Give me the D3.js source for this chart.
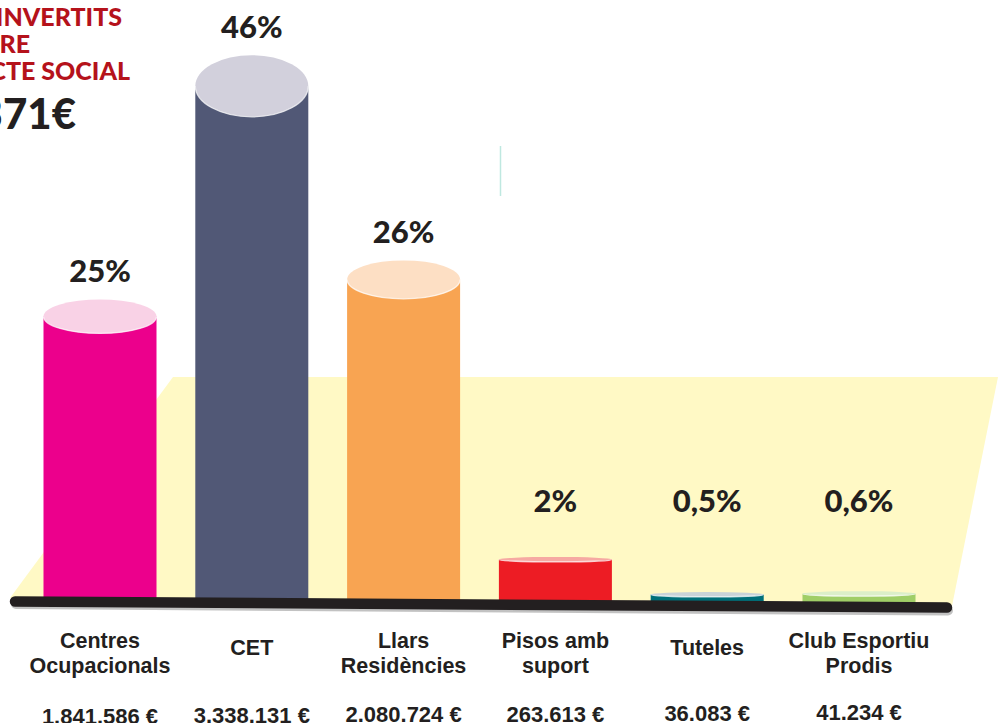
<!DOCTYPE html>
<html>
<head>
<meta charset="utf-8">
<script src="https://cdn.jsdelivr.net/npm/d3@7"></script>
<style>
  html, body { margin: 0; padding: 0; background: #ffffff; overflow: hidden; }
  svg { display: block; }
</style>
</head>
<body>
<svg id="chart" width="998" height="723"></svg>
<script>
// ---- data ----
const categories = [
  ["Centres", "Ocupacionals"],
  ["CET"],
  ["Llars", "Residències"],
  ["Pisos amb", "suport"],
  ["Tuteles"],
  ["Club Esportiu", "Prodis"]
];
const amounts = [1841586, 3338131, 2080724, 263613, 36083, 41234];
const percentLabels = ["25%", "46%", "26%", "2%", "0,5%", "0,6%"];
const amountLabels = ["1.841.586 €", "3.338.131 €", "2.080.724 €", "263.613 €", "36.083 €", "41.234 €"];
const bodyColors = ["#EC008C", "#515876", "#F8A452", "#ED1C24", "#00707A", "#A0CE67"];
const topColors  = ["#F9D2E6", "#D2D0DC", "#FDDFC4", "#F6A9A2", "#C9D3D8", "#DCEFC9"];
const titleLines = ["RECURSOS INVERTITS", "SOBRE", "L'IMPACTE SOCIAL"];
const totalLabel = "7.601.371€";

// ---- layout ----
const svg = d3.select("#chart");
const baseY = 600;
const keys = d3.range(categories.length);

const x = d3.scalePoint().domain(keys).range([100, 859]);
const y = d3.scaleLinear().domain([0, d3.max(amounts)]).range([baseY, 86]);
const barW = 113;
const ryOf = v => Math.max(2.5, (baseY - y(v)) * 0.06);

// floor
svg.append("polygon")
  .attr("points", [[173, 377], [998, 377], [952, 606], [10, 598]].map(p => p.join(",")).join(" "))
  .attr("fill", "#FFF9C5");

// thin decorative line
svg.append("line")
  .attr("x1", 500.5).attr("x2", 500.5).attr("y1", 146).attr("y2", 196)
  .attr("stroke", "#BFE8E0").attr("stroke-width", 1.5);

// cylinders
const cyl = svg.append("g").selectAll("g").data(keys).join("g");
cyl.append("rect")
  .attr("x", i => x(i) - barW / 2)
  .attr("y", i => y(amounts[i]))
  .attr("width", barW)
  .attr("height", i => baseY + 6 - y(amounts[i]))
  .attr("fill", i => bodyColors[i]);
cyl.append("ellipse")
  .attr("cx", i => x(i))
  .attr("cy", i => y(amounts[i]))
  .attr("rx", barW / 2)
  .attr("ry", i => ryOf(amounts[i]))
  .attr("fill", i => topColors[i]);
cyl.append("path")
  .attr("d", i => {
    const cx = x(i), cy = y(amounts[i]), rx = barW / 2, ry = ryOf(amounts[i]);
    return `M${cx - rx},${cy} A${rx},${ry} 0 0 0 ${cx + rx},${cy}`;
  })
  .attr("fill", "none")
  .attr("stroke", "#ffffff")
  .attr("stroke-opacity", 0.75)
  .attr("stroke-width", 1.3);

// base line with shadow
svg.append("line")
  .attr("x1", 16).attr("y1", 604).attr("x2", 948).attr("y2", 610.5)
  .attr("stroke", "#9a9a9a").attr("stroke-width", 10).attr("stroke-linecap", "round").attr("opacity", 0.6);
svg.append("line")
  .attr("x1", 15).attr("y1", 601.5).attr("x2", 947).attr("y2", 607.5)
  .attr("stroke", "#231F20").attr("stroke-width", 10.5).attr("stroke-linecap", "round");

// percentage labels
svg.append("g").selectAll("text").data(keys).join("text")
  .attr("x", i => x(i))
  .attr("y", i => Math.min(y(amounts[i]) - ryOf(amounts[i]) - 17, 512))
  .attr("text-anchor", "middle")
  .attr("font-family", "Lato, 'Open Sans', sans-serif")
  .attr("font-weight", 900)
  .attr("font-size", 31)
  .attr("fill", "#231F20")
  .text(i => percentLabels[i]);

// category labels
const catG = svg.append("g").selectAll("text").data(keys).join("text")
  .attr("text-anchor", "middle")
  .attr("font-family", "'Liberation Sans', Arial, sans-serif")
  .attr("font-weight", 700)
  .attr("font-size", 21.5)
  .attr("fill", "#231F20");
catG.each(function (i) {
  const lines = categories[i];
  const t = d3.select(this);
  const y0 = lines.length === 1 ? 655 : 648;
  lines.forEach((ln, k) => {
    t.append("tspan").attr("x", x(i)).attr("y", y0 + k * 25).text(ln);
  });
});

// amount labels (cropped at bottom as in the reference)
svg.append("g").selectAll("text").data(keys).join("text")
  .attr("x", i => x(i))
  .attr("y", i => 724 - i * 0.8)
  .attr("text-anchor", "middle")
  .attr("font-family", "'Liberation Sans', Arial, sans-serif")
  .attr("font-weight", 700)
  .attr("font-size", 22)
  .attr("fill", "#231F20")
  .text(i => amountLabels[i]);

// title (partially cropped at left)
const titleEnds = [122, 30, 130];
const titleBase = [26, 53, 80];
svg.append("g").selectAll("text").data(titleLines).join("text")
  .attr("x", (d, k) => titleEnds[k])
  .attr("y", (d, k) => titleBase[k])
  .attr("text-anchor", "end")
  .attr("font-family", "Lato, 'Open Sans', sans-serif")
  .attr("font-weight", 900)
  .attr("font-size", 25)
  .attr("fill", "#B5121B")
  .text(d => d);
svg.append("text")
  .attr("x", 76).attr("y", 129)
  .attr("text-anchor", "end")
  .attr("font-family", "Lato, 'Open Sans', sans-serif")
  .attr("font-weight", 900)
  .attr("font-size", 42)
  .attr("fill", "#231F20")
  .text(totalLabel);
</script>
</body>
</html>
